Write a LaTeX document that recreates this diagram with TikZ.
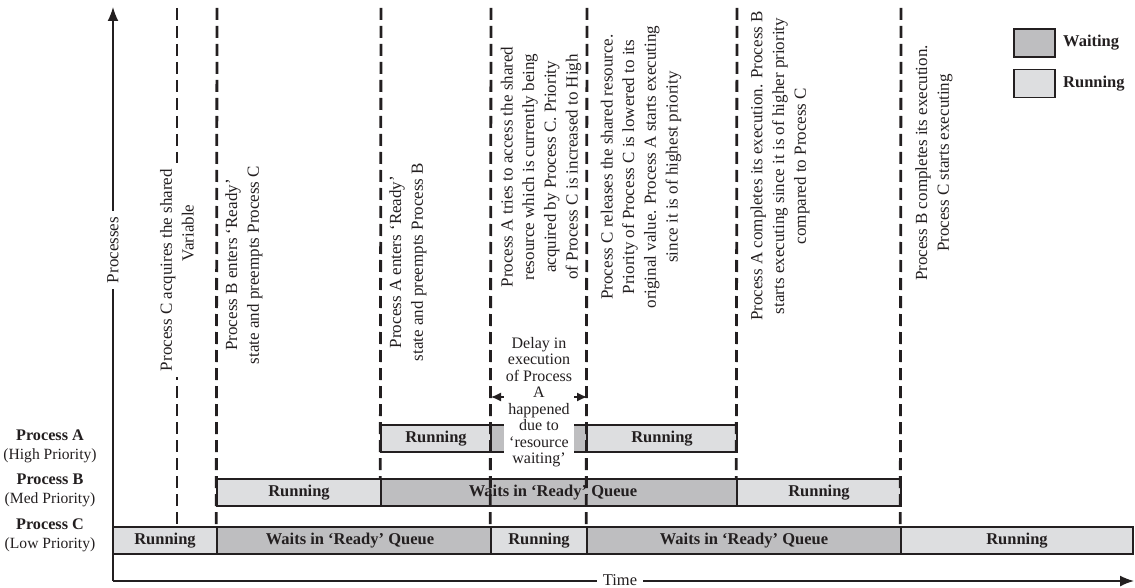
\documentclass[tikz,border=0pt]{standalone}
\usepackage{fontspec}
\setmainfont{Liberation Serif}
\usetikzlibrary{arrows.meta}
\definecolor{waitc}{RGB}{190,190,192}
\definecolor{runc}{RGB}{221,222,224}
\definecolor{ink}{RGB}{35,31,32}
\begin{document}
\begin{tikzpicture}[x=1pt,y=-1pt,
  bar/.style={draw=ink, line width=1.4pt, minimum height=27pt, inner sep=0pt,
    font=\fontsize{16.5}{18}\selectfont\bfseries, text=ink},
  runbar/.style={bar, fill=runc},
  waitbar/.style={bar, fill=waitc},
  evline/.style={draw=ink, line width=2.8pt, dash pattern=on 12pt off 6pt},
  note/.style={rotate=90, align=center, font=\fontsize{17}{21.7}\selectfont, text=ink, inner sep=1pt},
  axisline/.style={draw=ink, line width=1.6pt, -{Latex[length=14pt,width=11pt]}},
  rowlabel/.style={align=center, text=ink, font=\fontsize{15.6}{19}\selectfont},
  legtext/.style={anchor=west, text=ink, inner sep=0pt, font=\fontsize{16.5}{18}\selectfont\bfseries},
  tip/.style={{Latex[length=10pt,width=9pt]}-{Latex[length=10pt,width=9pt]}, draw=ink, line width=1.2pt},
]
\useasboundingbox (0,0) rectangle (1135,588);

% ---------- rows ----------
% Process A
\node[runbar,  minimum width=110pt] (a1) at (436,438.5) {Running};
\node[waitbar, minimum width=96pt]  (a2) at (539,438.5) {};
\node[runbar,  minimum width=150pt] (a3) at (662,438.5) {Running};
% Process B
\node[runbar,  minimum width=164pt] (b1) at (299,492.5) {Running};
\node[waitbar, minimum width=356pt] (b2) at (559,492.5) {Waits in `Ready' Queue\hspace*{12pt}};
\node[runbar,  minimum width=164pt] (b3) at (819,492.5) {Running};
% Process C
\node[runbar,  minimum width=104pt] (c1) at (165,540.5) {Running};
\node[waitbar, minimum width=274pt] (c2) at (354,540.5) {Waits in `Ready' Queue\hspace*{8pt}};
\node[runbar,  minimum width=96pt]  (c3) at (539,540.5) {Running};
\node[waitbar, minimum width=314pt] (c4) at (744,540.5) {Waits in `Ready' Queue};
\node[runbar,  minimum width=232pt] (c5) at (1017,540.5) {Running};

% ---------- row labels ----------
\node[rowlabel] (la) at (50,446) {\textbf{\fontsize{16.2}{19}\selectfont Process A}\\(High Priority)};
\node[rowlabel] (lb) at (50,490) {\textbf{\fontsize{16.2}{19}\selectfont Process B}\\(Med Priority)};
\node[rowlabel] (lc) at (50,535) {\textbf{\fontsize{16.2}{19}\selectfont Process C}\\(Low Priority)};

% ---------- event lines ----------
\coordinate (e1) at (177,8);
\coordinate (e2) at (217,8);
\coordinate (e3) at (381,8);
\coordinate (e4) at (491,8);
\coordinate (e5) at (587,8);
\coordinate (e6) at (737,8);
\coordinate (e7) at (901,8);
\draw[evline] (e1) -- (e1 |- c1.north);
\draw[evline] (e2) -- (c2.north west);
\draw[evline] (e3) -- (b2.north west);
\draw[evline] (e4) -- (c3.north west);
\draw[evline] (e5) -- (c4.north west);
\draw[evline] (e6) -- (b3.north west);
\draw[evline] (e7) -- (c5.north west);

% ---------- axes ----------
\coordinate (o) at (113,581);
\coordinate (ytop) at (113,7);
\coordinate (xend) at (1134,581);
\draw[axisline] (o) -- (ytop);
\draw[axisline] (o) -- (xend);
\node[rotate=90, fill=white, inner xsep=6pt, inner ysep=1pt, text=ink, font=\fontsize{17}{20}\selectfont] (ylab) at (113,250) {Processes};
\node[fill=white, inner xsep=6pt, inner ysep=0pt, text=ink, font=\fontsize{16.5}{18}\selectfont] (xlab) at (620,580) {Time};

% ---------- event notes ----------
\node[note, fill=white, inner xsep=6pt] (n1) at (177,270) {Process C acquires the shared\\\hspace*{74pt}Variable};
\node[note] (n2) at (244,265) {Process B enters `Ready'\\state and preempts Process C};
\node[note] (n3) at (408,262) {Process A enters `Ready'\\state and preempts Process B};
\node[note] (n4) at (541,167) {Process A tries to access the shared\\resource which is currently being\\acquired by Process C. Priority\\of Process C is increased to High};
\node[note] (n5) at (641,167) {Process C releases the shared resource.\\Priority of Process C is lowered to its\\original value. Process A starts executing\\since it is of highest priority};
\node[note] (n6) at (780,166) {Process A completes its execution. Process B\\starts executing since it is of higher priority\\compared to Process C};
\node[note] (n7) at (934,163) {Process B completes its execution.\\Process C starts executing};

% ---------- delay ----------
\coordinate (dl) at (491,397);
\coordinate (dr) at (587,397);
\draw[tip] (dl) -- (dr);
\node[fill=white, align=center, inner sep=2pt, text=ink, font=\fontsize{16}{16.5}\selectfont] (delay) at (539,402)
  {Delay in\\execution\\of Process\\A\\happened\\due to\\`resource\\waiting'};

% ---------- legend ----------
\node[waitbar, minimum width=41pt, minimum height=28pt] (lw) at (1034.5,43) {};
\node[runbar,  minimum width=41pt, minimum height=28pt] (lr) at (1034.5,83.5) {};
\node[legtext] (lwt) at (1063,43) {Waiting};
\node[legtext] (lrt) at (1063,83.5) {Running};
\end{tikzpicture}
\end{document}
